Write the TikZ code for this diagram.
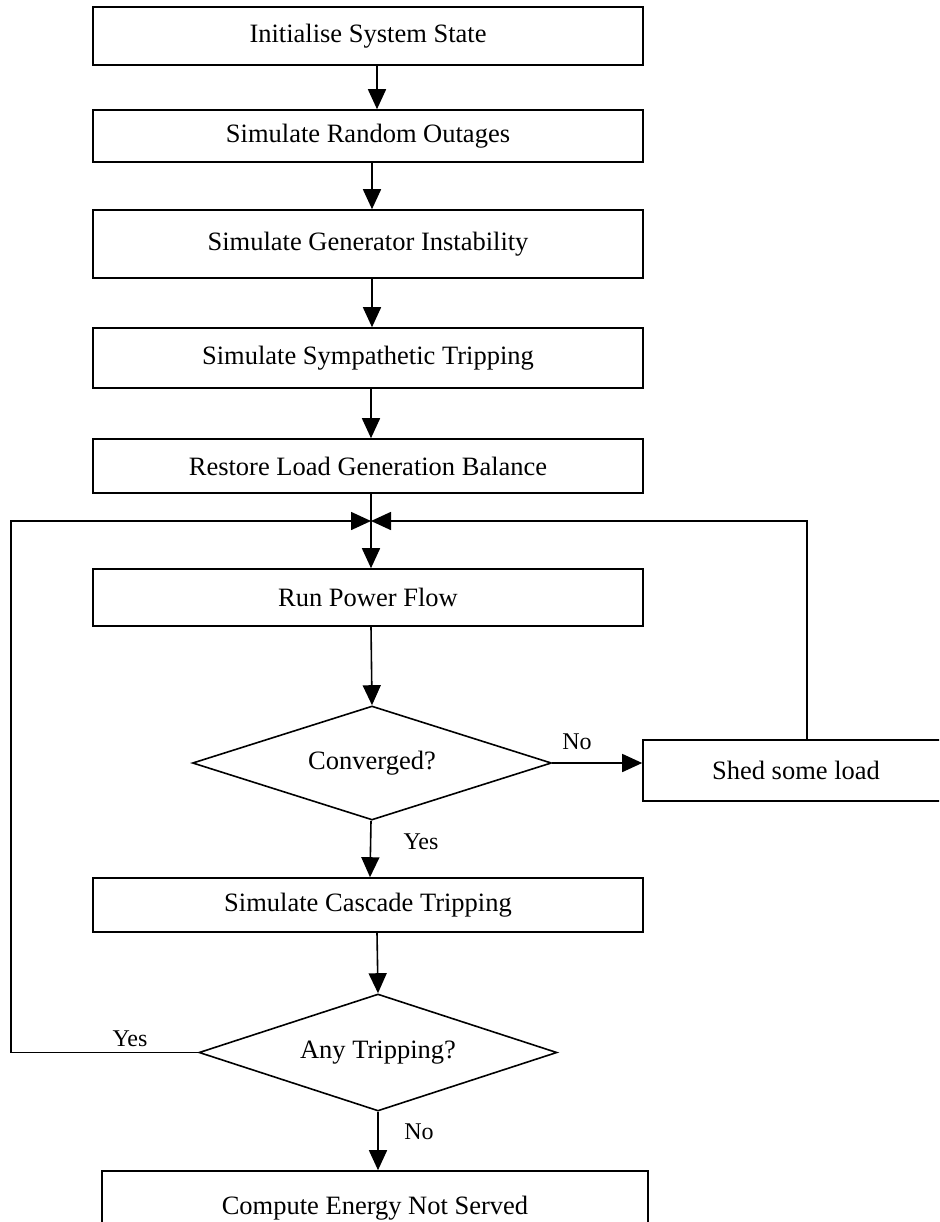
\documentclass[tikz,border=0pt]{standalone}
\usepackage{fontspec}
\setmainfont{Liberation Serif}
\usetikzlibrary{arrows.meta,shapes.geometric}
\begin{document}
\begin{tikzpicture}[x=1pt,y=-1pt,
  every node/.style={font=\fontsize{26.5}{30}\selectfont},
  stepbox/.style={draw,line width=1.6pt,rectangle,inner sep=0pt,minimum width=550pt},
  decide/.style={draw,line width=1.6pt,diamond,aspect=3.15,inner sep=0pt,minimum width=359pt,minimum height=114pt},
  flow/.style={line width=1.6pt,-{Triangle[length=20pt,width=18pt]}},
  lbl/.style={inner sep=0pt,font=\fontsize{24}{28}\selectfont}]
\useasboundingbox (0,0) rectangle (939,1222);
\clip (0,0) rectangle (939,1222);

% process boxes
\node[stepbox,minimum height=58pt] (init) at (368,36) {Initialise System State};
\node[stepbox,minimum height=52pt] (rand) at (368,136) {Simulate Random Outages};
\node[stepbox,minimum height=68pt] (gen) at (368,244) {Simulate Generator Instability};
\node[stepbox,minimum height=60pt] (symp) at (368,358) {Simulate Sympathetic Tripping};
\node[stepbox,minimum height=54pt] (rest) at (368,466) {Restore Load Generation Balance};
\node[stepbox,minimum height=57pt] (rpf) at (368,597.5) {Run Power Flow};
\node[decide] (conv) at (372,763) {Converged?};
\node[stepbox,minimum width=306pt,minimum height=61pt] (shed) at (796,770.5) {Shed some load};
\node[stepbox,minimum height=54pt] (casc) at (368,905) {Simulate Cascade Tripping};
\node[decide,minimum width=358pt,minimum height=117pt] (trip) at (378,1052.5) {Any Tripping?};
\node[stepbox,minimum width=546pt,minimum height=74pt] (ens) at (375,1208) {Compute Energy Not Served};

% loop junction and corners
\coordinate (merge) at (371,521);
\coordinate (lcorner) at (11,521);
\coordinate (rcorner) at (807,521);

% main sequence
\draw[flow] ([xshift=9pt]init.south) -- ([xshift=9pt]rand.north);
\draw[flow] ([xshift=4pt]rand.south) -- ([xshift=4pt]gen.north);
\draw[flow] ([xshift=4pt]gen.south) -- ([xshift=4pt]symp.north);
\draw[flow] ([xshift=3pt]symp.south) -- ([xshift=3pt]rest.north);
\draw[flow] ([xshift=3pt]rest.south) -- ([xshift=3pt]rpf.north);
\draw[flow] ([xshift=3pt]rpf.south) -- (conv.north);
\draw[flow] ([xshift=-1pt]conv.south) -- ([xshift=2pt]casc.north);
\draw[flow] ([xshift=9pt]casc.south) -- (trip.north);
\draw[flow] (trip.south) -- (trip.south |- ens.north);

% not converged: shed load and rerun
\draw[flow] (conv.east) -- (conv.east -| shed.west);
\draw[flow] (shed.north -| rcorner) -- (rcorner) -- (merge);

% more tripping: rerun power flow
\draw[flow] (trip.west) -- (trip.west -| lcorner) -- (lcorner) -- (merge);

% branch labels
\node[lbl] (no1) at (577,742) {No};
\node[lbl] (yes1) at (421,842) {Yes};
\node[lbl] (yes2) at (130,1039) {Yes};
\node[lbl] (no2) at (419,1132) {No};
\end{tikzpicture}
\end{document}
